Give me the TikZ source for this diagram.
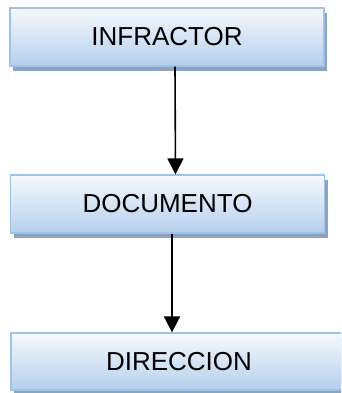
\documentclass[tikz,border=0pt]{standalone}
\usepackage{fontspec}
\setmainfont{Liberation Sans}
\usepackage{xcolor}
\usepackage{tikz}
\usetikzlibrary{shapes,arrows.meta,positioning,shadows}

\definecolor{boxline}{HTML}{9DC3E6}
\definecolor{boxtop}{HTML}{F6F9FD}
\definecolor{boxbot}{HTML}{B6CFEC}
\definecolor{boxshade}{HTML}{8FA4BC}

\tikzset{
  stage/.style={draw=boxline,line width=1.2pt,top color=boxtop,bottom color=boxbot,
    minimum width=314pt,minimum height=58pt,inner sep=0pt,
    font=\fontsize{26}{30}\selectfont,
    drop shadow={shadow xshift=3pt,shadow yshift=-5pt,fill=boxshade,opacity=1}},
  flow/.style={line width=1.6pt,-{Triangle[width=16pt,length=16pt]}}
}

\begin{document}
\begin{tikzpicture}[x=1pt,y=1pt]
  \clip (0,0) rectangle (341,393);
  % the three stages, top to bottom
  \node[stage] (infractor) at (167,356) {INFRACTOR};
  \node[stage] (documento) at (167.5,189) {DOCUMENTO};
  \node[stage,minimum width=336pt,minimum height=57pt] (direccion) at (179,31.5) {DIRECCION};
  % connectors
  \draw[flow] ([xshift=8pt]infractor.south) -- ([xshift=8pt]documento.north);
  \draw[flow] ([xshift=4.5pt]documento.south) -- ([xshift=4.5pt]direccion.north -| documento.south);
\end{tikzpicture}
\end{document}
